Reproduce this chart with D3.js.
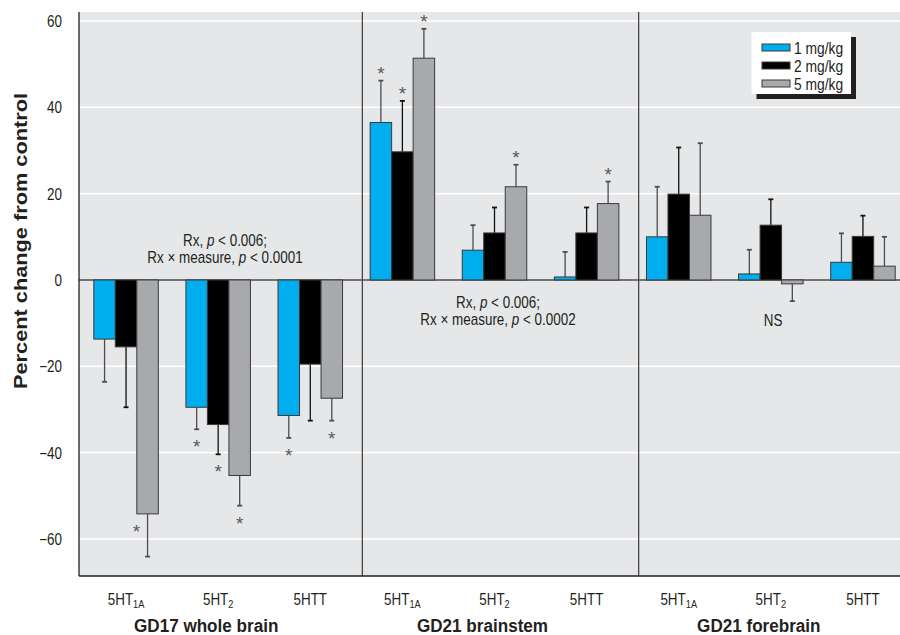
<!DOCTYPE html>
<html>
<head>
<meta charset="utf-8">
<script src="https://cdn.jsdelivr.net/npm/d3@7"></script>
<style>
  html, body { margin: 0; padding: 0; background: #fff; }
  svg { display: block; }
  text { font-family: "Liberation Sans", Arial, sans-serif; fill: #231f20; }
</style>
</head>
<body>
<svg id="chart" width="900" height="635"></svg>
<script>
// ---------- data ----------
const regions = ["GD17 whole brain", "GD21 brainstem", "GD21 forebrain"];
const measures = ["5HT1A", "5HT2", "5HTT"];
const measureBase = ["5HT", "5HT", "5HTT"];
const measureSub = ["1A", "2", ""];
const doses = ["1 mg/kg", "2 mg/kg", "5 mg/kg"];
const doseColors = ["#00aeef", "#000000", "#a7a9ac"];

// mean percent change, order: region x measure
const mean1 = [-13.7, -29.5, -31.4, 36.5, 6.9, 0.7, 10.0, 1.4, 4.1];
const mean2 = [-15.5, -33.5, -19.5, 29.7, 10.9, 10.9, 19.9, 12.7, 10.1];
const mean5 = [-54.2, -45.3, -27.4, 51.4, 21.6, 17.7, 15.0, -0.9, 3.2];
// standard errors
const se1 = [9.9, 5.1, 5.2, 9.7, 5.8, 5.8, 11.6, 5.6, 6.7];
const se2 = [14.0, 6.9, 13.1, 11.8, 5.9, 5.9, 10.8, 6.0, 4.8];
const se5 = [9.9, 7.0, 5.2, 6.8, 5.1, 5.1, 16.7, 4.0, 6.8];
// significance (asterisk)
const sig1 = [0, 1, 1, 1, 0, 0, 0, 0, 0];
const sig2 = [0, 1, 0, 1, 0, 0, 0, 0, 0];
const sig5 = [1, 1, 1, 1, 1, 1, 0, 0, 0];

const yTicks = [-60, -40, -20, 0, 20, 40, 60];
const yDomain = [-68.6, 62.1];
const statLines = [
  ["Rx, ", "p", " < 0.006;"],
  ["Rx × measure, ", "p", " < 0.0001"],
  ["Rx, ", "p", " < 0.006;"],
  ["Rx × measure, ", "p", " < 0.0002"],
  ["NS"]
];

// ---------- build ----------
const keys = [];
regions.forEach((r, ri) => measures.forEach((m, mi) => keys.push(ri + "|" + mi)));
const means = [mean1, mean2, mean5];
const ses = [se1, se2, se5];
const sigs = [sig1, sig2, sig5];
const rows = [];
keys.forEach((k, i) => doses.forEach((d, di) => rows.push({
  key: k, dose: d, di: di, v: means[di][i], se: ses[di][i], sig: sigs[di][i]
})));

const svg = d3.select("#chart");
const plot = { left: 79, right: 900, top: 12, bottom: 576 };
const FS = 16;     // regular font size
const SX = 0.84;   // condensed look for regular text
const SXB = 0.94;  // condensed look for bold text

function addText(parent, x, y, opts) {
  return parent.append("text")
    .attr("transform", `translate(${x},${y}) scale(${opts.sx || SX},1)`)
    .attr("text-anchor", opts.anchor || "middle")
    .attr("font-size", opts.size || FS)
    .attr("font-weight", opts.weight || null);
}

const y = d3.scaleLinear().domain(yDomain).range([plot.bottom, plot.top]);
const x0 = d3.scaleBand().domain(keys).range([80, 909]).paddingInner(0).paddingOuter(0);
const x1 = d3.scaleBand().domain(doses).range([0, x0.bandwidth()]).paddingInner(0).paddingOuter(0.642);

// background
svg.append("rect").attr("x", plot.left).attr("y", plot.top)
  .attr("width", plot.right - plot.left).attr("height", plot.bottom - plot.top)
  .attr("fill", "#e6e7e8");

// gridlines
svg.append("g").selectAll("line").data(yTicks.filter(t => t !== 0)).join("line")
  .attr("x1", plot.left).attr("x2", plot.right)
  .attr("y1", d => y(d)).attr("y2", d => y(d))
  .attr("stroke", "#ffffff").attr("stroke-width", 1.5);

// panel separators
const sepX = [keys[3], keys[6]].map(k => x0(k) + 6);
svg.append("g").selectAll("line").data(sepX).join("line")
  .attr("x1", d => d).attr("x2", d => d)
  .attr("y1", plot.top).attr("y2", plot.bottom)
  .attr("stroke", "#3a3a3a").attr("stroke-width", 1.2);

// zero line
svg.append("line").attr("x1", plot.left).attr("x2", plot.right)
  .attr("y1", y(0)).attr("y2", y(0)).attr("stroke", "#4d4d4f").attr("stroke-width", 1.3);

// error bars
const eb = svg.append("g");
const lowest = d3.min(yTicks);
rows.forEach(r => {
  const cx = x0(r.key) + x1(r.dose) + x1.bandwidth() / 2;
  const end = r.v >= 0 ? r.v + r.se : r.v - r.se;
  const col = r.di === 1 ? "#111" : "#4d4d4f";
  eb.append("line").attr("x1", cx).attr("x2", cx).attr("y1", y(r.v)).attr("y2", y(end))
    .attr("stroke", col).attr("stroke-width", 1.3);
  eb.append("line").attr("x1", cx - 2.5).attr("x2", cx + 2.5).attr("y1", y(end)).attr("y2", y(end))
    .attr("stroke", col).attr("stroke-width", 1.8);
  if (r.sig) {
    let ax = cx, ay;
    if (r.v >= 0) ay = y(end) - 1;
    else if (end < lowest) { ax = cx - 11; ay = y(r.v) + 24; }   // no room below: beside the whisker
    else ay = y(end) + 24;
    eb.append("text").attr("x", ax).attr("y", ay)
      .attr("text-anchor", "middle").attr("font-size", 19).style("fill", "#58595b").text("*");
  }
});

// bars
svg.append("g").selectAll("rect").data(rows).join("rect")
  .attr("x", d => x0(d.key) + x1(d.dose))
  .attr("width", x1.bandwidth())
  .attr("y", d => y(Math.max(0, d.v)))
  .attr("height", d => Math.abs(y(d.v) - y(0)))
  .attr("fill", d => doseColors[d.di])
  .attr("stroke", "#3a3a3a").attr("stroke-width", 1);

// axes lines
svg.append("line").attr("x1", plot.left).attr("x2", plot.left).attr("y1", plot.top).attr("y2", plot.bottom)
  .attr("stroke", "#231f20").attr("stroke-width", 1.3);
svg.append("line").attr("x1", plot.left).attr("x2", plot.right).attr("y1", plot.bottom).attr("y2", plot.bottom)
  .attr("stroke", "#231f20").attr("stroke-width", 1.3);

// y tick labels
yTicks.forEach(d => {
  addText(svg, 62, y(d) + 6, { anchor: "end" }).text(d < 0 ? "\u2212" + Math.abs(d) : d);
});

// y title
svg.append("text").attr("transform", "translate(27,241) rotate(-90)")
  .attr("text-anchor", "middle").attr("font-size", 19).attr("font-weight", "bold")
  .attr("textLength", 296).attr("lengthAdjust", "spacingAndGlyphs")
  .text("Percent change from control");

// x tick labels
keys.forEach((k, i) => {
  const mi = i % 3;
  const t = addText(svg, x0(k) + x0.bandwidth() / 2, 605, {});
  t.append("tspan").text(measureBase[mi]);
  if (measureSub[mi]) t.append("tspan").attr("font-size", 11).attr("dy", 3).text(measureSub[mi]);
});

// region titles
regions.forEach((r, ri) => {
  addText(svg, x0(keys[ri * 3 + 1]) + x0.bandwidth() / 2 - 12, 632, { size: 19, weight: "bold", sx: 0.9 }).text(r);
});

// stat annotations
function statText(xc, yb, parts) {
  const t = addText(svg, xc, yb, {});
  parts.forEach((p, i) => t.append("tspan").attr("font-style", i === 1 ? "italic" : null).text(p));
}
statText(225, 246, statLines[0]);
statText(225, 263, statLines[1]);
statText(498, 308, statLines[2]);
statText(498, 325, statLines[3]);
statText(773, 326, statLines[4]);

// legend
const lg = svg.append("g");
lg.append("rect").attr("x", 756.5).attr("y", 37).attr("width", 99.5).attr("height", 62).attr("fill", "#231f20");
lg.append("rect").attr("x", 751.5).attr("y", 32).attr("width", 99.5).attr("height", 62).attr("fill", "#ffffff");
doses.forEach((d, di) => {
  const cy = 47.5 + di * 18;
  lg.append("rect").attr("x", 762).attr("y", cy - 3.5).attr("width", 28).attr("height", 7)
    .attr("fill", doseColors[di]).attr("stroke", "#3a3a3a").attr("stroke-width", 1);
  addText(lg, 794, cy + 6, { anchor: "start", size: 16.5 }).text(d);
});
</script>
</body>
</html>
